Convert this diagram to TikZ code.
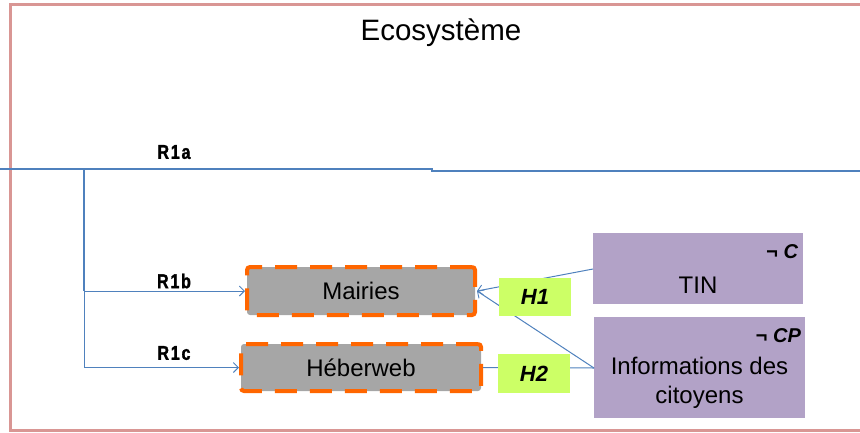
\documentclass[tikz,border=0pt]{standalone}
\usepackage{fontspec}
\setmainfont{Liberation Sans}
\newfontfamily\rlabelfont[FakeStretch=0.8,LetterSpace=9,FakeBold=1.5]{Liberation Sans}
\usetikzlibrary{arrows.meta}
\definecolor{framepink}{HTML}{D99694}
\definecolor{linkblue}{HTML}{4F81BD}
\definecolor{boxgrey}{HTML}{A6A6A6}
\definecolor{dashorange}{HTML}{FF6600}
\definecolor{hgreen}{HTML}{CCFF66}
\definecolor{actorpurple}{HTML}{B2A2C7}
\tikzset{
  link/.style={draw=linkblue, line width=1pt},
  barb/.style={-{Straight Barb[length=5pt,width=10pt,line width=0.9pt]}},
  rlabel/.style={font=\rlabelfont\bfseries\fontsize{20}{20}\selectfont, inner sep=0pt},
  sysbox/.style={fill=boxgrey, draw=dashorange, line width=4pt,
    dash pattern=on 22pt off 13pt, rounded corners=3pt,
    font=\fontsize{24}{24}\selectfont, inner sep=0pt},
  hypbox/.style={fill=hgreen, minimum width=72pt, minimum height=38pt,
    inner sep=0pt, font=\bfseries\itshape\fontsize{22}{22}\selectfont},
  actorbox/.style={fill=actorpurple, inner sep=0pt},
  negtag/.style={font=\bfseries\itshape\fontsize{20}{20}\selectfont,
    inner sep=0pt, anchor=north east},
  actortext/.style={font=\fontsize{24}{29}\selectfont, inner sep=0pt, align=center}
}
\begin{document}
\begin{tikzpicture}[x=1pt, y=-1pt]
\useasboundingbox (0,0) rectangle (860,432);
\begin{scope}
  \clip (0,0) rectangle (860,432);
  % ecosystem frame
  \draw[draw=framepink, line width=3pt] (10,4) rectangle (880,430);
\end{scope}
\node[font=\fontsize{29.5}{29.5}\selectfont, inner sep=0pt] (eco) at (441,33) {Ecosystème};

% relation trunk R1a
\coordinate (r1aL) at (0,169);
\coordinate (r1aJ) at (84,169);
\coordinate (r1aS) at (432,169);
\coordinate (r1aT) at (432,171);
\coordinate (r1aR) at (860,171);
\draw[link, line width=1.4pt] (r1aL) -- (r1aS) -- (r1aT) -- (r1aR);
\node[rlabel] (lR1a) at (174,152) {R1a};

% systems
\node[sysbox, minimum width=228pt, minimum height=48pt] (mairies) at (361,291) {Mairies};
\node[sysbox, minimum width=240pt, minimum height=47pt] (heberweb) at (361,367.5) {Héberweb};

% branches R1b, R1c
\coordinate (r1bJ) at (84,291);
\coordinate (r1cJ) at (84,367.5);
\draw[link, line width=1.8pt] (r1aJ) -- (r1bJ);
\draw[link] (r1bJ) -- (r1cJ);
\draw[link, barb] (r1bJ) -- (mairies.west);
\draw[link, barb] (r1cJ) -- (heberweb.west);
\node[rlabel] (lR1b) at (174,281) {R1b};
\node[rlabel] (lR1c) at (174,353) {R1c};

% actors
\node[actorbox, minimum width=210pt, minimum height=71pt] (tin) at (698,268.5) {};
\node[actortext] (tinText) at (698,285) {TIN};
\node[negtag] (negC) at ([xshift=-5pt,yshift=-12pt]tin.north east) {¬ C};
\node[actorbox, minimum width=211pt, minimum height=101pt] (info) at (699.5,367.5) {};
\node[actortext] (infoText) at (699.5,383) {Informations des\\citoyens};
\node[negtag] (negCP) at ([xshift=-4pt,yshift=-12pt]info.north east) {¬ CP};

% hypothesis links
\coordinate (tinIn) at (593,269);
\coordinate (infoIn) at (594,368);
\draw[link, barb] (tinIn) -- (mairies.east);
\draw[link, barb] (infoIn) -- (mairies.east);
\draw[link] (infoIn) -- (heberweb.east);

\node[hypbox] (h1) at (535,297) {H1};
\node[hypbox, minimum height=39pt] (h2) at (534,373.5) {H2};
\end{tikzpicture}
\end{document}
